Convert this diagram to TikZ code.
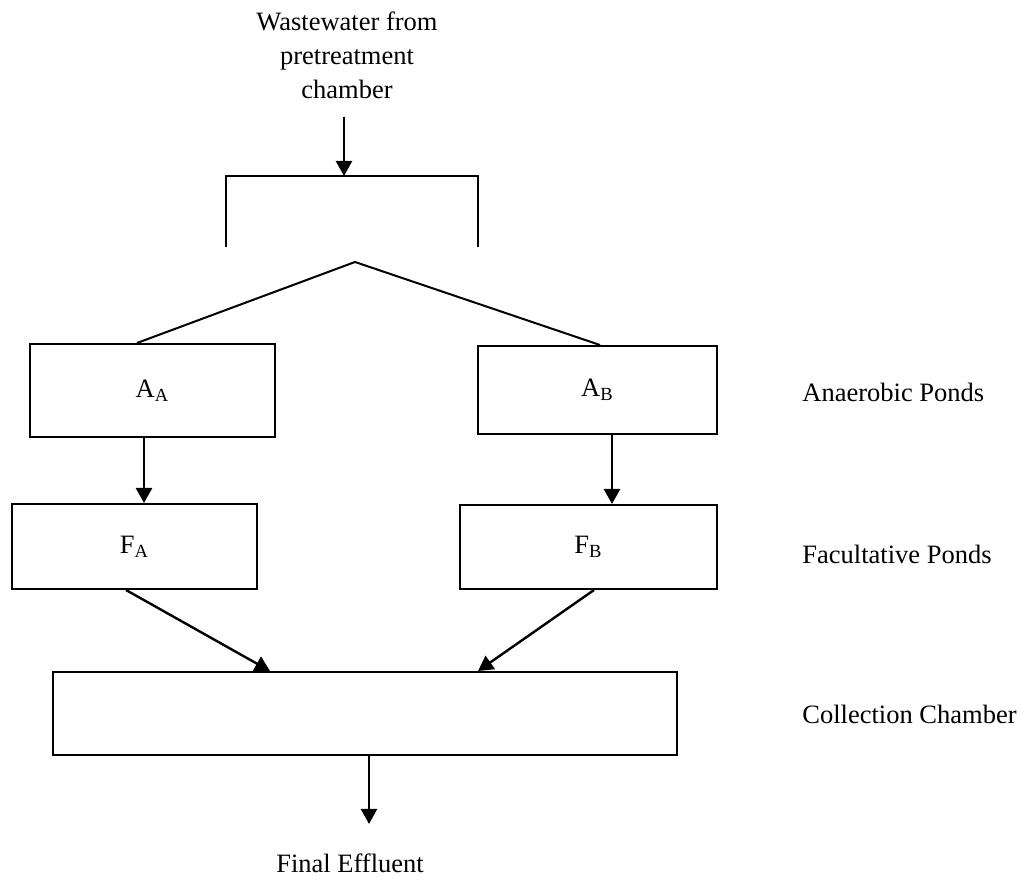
\documentclass[tikz,border=0pt]{standalone}
\usepackage{fontspec}
\setmainfont{Liberation Serif}
\usetikzlibrary{arrows.meta}

\begin{document}
\begin{tikzpicture}[x=0.5pt,y=-0.5pt,>={Triangle[length=7.5pt,width=8pt]},
  font=\fontsize{13.25pt}{17pt}\selectfont,
  pond/.style={draw,line width=1pt,inner sep=0pt},
  lbl/.style={inner sep=0pt,anchor=base west},
  flow/.style={->,line width=1.2pt}]
  \useasboundingbox (0,0) rectangle (1024,882);
  % 进水
  \node[align=center,inner sep=0pt,anchor=north] (src) at (347,11) {Wastewater from\\pretreatment\\chamber};
  % 分流槽
  \coordinate (split) at (344,176);
  \coordinate (brL) at (226,247);
  \coordinate (brR) at (478,247);
  \coordinate (apex) at (355,262);
  \draw[flow,shorten <=9pt] (src.south -| split) -- (split);
  \draw[line width=1pt] (brL) |- (split) -| (brR);
  % 厌氧塘
  \node[pond,minimum width=122.5pt,minimum height=46.5pt] (aa) at (152.5,390.5) {A\textsubscript{A}};
  \node[pond,minimum width=119.5pt,minimum height=44pt] (ab) at (597.5,390) {A\textsubscript{B}};
  \draw[line width=1pt] ([xshift=-7.75pt]aa.north) -- (apex) -- ([xshift=1.25pt]ab.north);
  % 兼性塘
  \node[pond,minimum width=122.5pt,minimum height=42.5pt] (fa) at (134.5,546.5) {F\textsubscript{A}};
  \node[pond,minimum width=128.5pt,minimum height=42pt] (fb) at (588.5,547) {F\textsubscript{B}};
  \draw[flow] ([xshift=-4.25pt]aa.south) -- ([xshift=-4.25pt]aa.south |- fa.north);
  \draw[flow] ([xshift=7.25pt]ab.south) -- ([xshift=7.25pt]ab.south |- fb.north);
  % 收集池
  \node[pond,minimum width=312pt,minimum height=41.5pt] (coll) at (365,713.5) {};
  \draw[flow] ([xshift=-4.25pt]fa.south) -- ([xshift=-47.5pt]coll.north);
  \draw[flow] ([xshift=2.75pt]fb.south) -- ([xshift=56.5pt]coll.north);
  % 出水
  \node[inner sep=0pt,anchor=base] (eff) at (350,872) {Final Effluent};
  \draw[flow,shorten >=14.5pt] ([xshift=2pt]coll.south) -- ([xshift=2pt]coll.south |- eff.north);
  % 右侧说明
  \node[lbl] (lanaer) at (802,402) {Anaerobic Ponds};
  \node[lbl] (lfacul) at (802,564) {Facultative Ponds};
  \node[lbl] (lcoll) at (802,723) {Collection Chamber};
\end{tikzpicture}
\end{document}
